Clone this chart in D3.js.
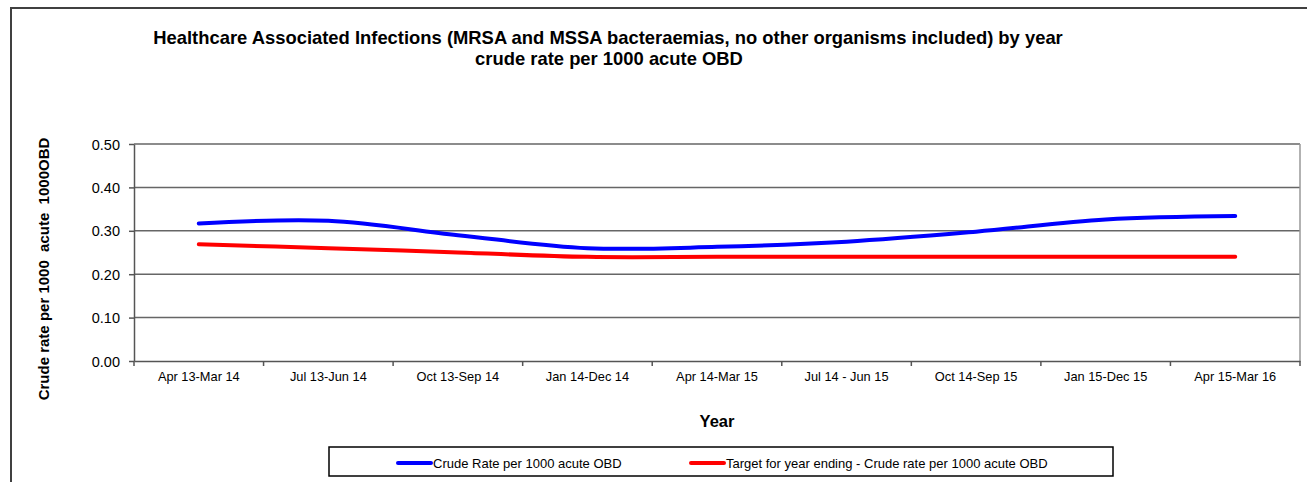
<!DOCTYPE html>
<html>
<head>
<meta charset="utf-8">
<script src="https://cdn.jsdelivr.net/npm/d3@7"></script>
<style>
  html, body { margin: 0; padding: 0; background: #fff; }
  svg { display: block; font-family: "Liberation Sans", Arial, sans-serif; }
</style>
</head>
<body>
<svg id="chart" width="1307" height="482"></svg>
<script>
// Period labels along the x axis
const periods = [
  "Apr 13-Mar 14", "Jul 13-Jun 14", "Oct 13-Sep 14", "Jan 14-Dec 14",
  "Apr 14-Mar 15", "Jul 14 - Jun 15", "Oct 14-Sep 15", "Jan 15-Dec 15", "Apr 15-Mar 16"
];
// Crude rate per 1000 acute OBD
const crudeRate = [0.317, 0.323, 0.290, 0.260, 0.263, 0.275, 0.298, 0.326, 0.334];
// Target for year ending
const targetRate = [0.269, 0.260, 0.250, 0.240, 0.240, 0.240, 0.240, 0.240, 0.240];
const yTicks = [0, 0.1, 0.2, 0.3, 0.4, 0.5];

const seriesNames = [
  "Crude Rate per 1000 acute OBD",
  "Target for year ending - Crude rate per 1000 acute OBD"
];
const seriesColors = ["#0000ff", "#ff0000"];

const svg = d3.select("#chart");
const plot = { left: 134, right: 1300, top: 144, bottom: 361 };

// Outer chart frame (open to the right and bottom)
svg.append("path")
  .attr("d", "M11,482 V8 H1307")
  .attr("fill", "none").attr("stroke", "#404040").attr("stroke-width", 2);

// Title
const title = svg.append("text")
  .attr("text-anchor", "middle")
  .attr("font-weight", "bold").attr("font-size", 18.4).attr("fill", "#000");
title.append("tspan").attr("x", 608).attr("y", 44)
  .text("Healthcare Associated Infections (MRSA and MSSA bacteraemias, no other organisms included) by year");
title.append("tspan").attr("x", 609).attr("y", 65)
  .text("crude rate per 1000 acute OBD");

const x = d3.scaleBand().domain(periods).range([plot.left, plot.right]);
const y = d3.scaleLinear().domain([0, 0.5]).range([plot.bottom, plot.top]);

// Horizontal gridlines
svg.append("g").selectAll("line").data(yTicks.filter(d => d > 0)).join("line")
  .attr("x1", plot.left).attr("x2", plot.right)
  .attr("y1", d => y(d)).attr("y2", d => y(d))
  .attr("stroke", "#666").attr("stroke-width", 1.5);

// Right edge of plot area
svg.append("line")
  .attr("x1", plot.right).attr("x2", plot.right)
  .attr("y1", plot.top).attr("y2", plot.bottom)
  .attr("stroke", "#999").attr("stroke-width", 1.5);

// Y axis
const yAxis = svg.append("g")
  .attr("transform", `translate(${plot.left},0)`)
  .call(d3.axisLeft(y).tickValues(yTicks).tickFormat(d3.format(".2f")).tickSize(5).tickSizeOuter(0));
yAxis.select(".domain").attr("stroke", "#555").attr("stroke-width", 1.5);
yAxis.selectAll(".tick line").attr("stroke", "#555").attr("stroke-width", 1.5);
yAxis.selectAll(".tick text")
  .attr("font-family", "Liberation Sans, Arial, sans-serif")
  .attr("font-size", 14.5).attr("fill", "#000").attr("x", -14).attr("dy", "0.35em");

// X axis
const xAxis = svg.append("g")
  .attr("transform", `translate(0,${plot.bottom})`)
  .call(d3.axisBottom(x).tickSize(0).tickSizeOuter(0));
xAxis.select(".domain").attr("stroke", "#555").attr("stroke-width", 1.5);
xAxis.selectAll(".tick text")
  .attr("font-family", "Liberation Sans, Arial, sans-serif")
  .attr("font-size", 12.8).attr("fill", "#000").attr("y", 11).attr("dy", "0.71em");
// Category boundary ticks
svg.append("g").selectAll("line")
  .data(periods.map(p => x(p)).concat([plot.right])).join("line")
  .attr("x1", d => d).attr("x2", d => d)
  .attr("y1", plot.bottom).attr("y2", plot.bottom + 5)
  .attr("stroke", "#555").attr("stroke-width", 1.5);

// Axis titles
svg.append("text")
  .attr("transform", "translate(49,269) rotate(-90)")
  .attr("text-anchor", "middle").attr("font-weight", "bold").attr("font-size", 15)
  .attr("xml:space", "preserve")
  .text("Crude rate per 1000  acute  1000OBD");
svg.append("text")
  .attr("x", 717).attr("y", 427)
  .attr("text-anchor", "middle").attr("font-weight", "bold").attr("font-size", 16.5)
  .text("Year");

// Series lines
const line = d3.line()
  .x((d, i) => x(periods[i]) + x.bandwidth() / 2)
  .y(d => y(d))
  .curve(d3.curveCatmullRom.alpha(0.5));

[targetRate, crudeRate].forEach((vals, k) => {
  const c = k === 0 ? seriesColors[1] : seriesColors[0];
  svg.append("path")
    .datum(vals)
    .attr("d", line)
    .attr("fill", "none").attr("stroke", c)
    .attr("stroke-width", 4).attr("stroke-linecap", "round");
});

// Legend
const legend = svg.append("g");
legend.append("rect")
  .attr("x", 329).attr("y", 447).attr("width", 784).attr("height", 29)
  .attr("fill", "#fff").attr("stroke", "#000").attr("stroke-width", 1.5);
const legendItems = [
  { name: seriesNames[0], color: seriesColors[0], x: 398 },
  { name: seriesNames[1], color: seriesColors[1], x: 691 }
];
legendItems.forEach(it => {
  legend.append("line")
    .attr("x1", it.x).attr("x2", it.x + 33).attr("y1", 463).attr("y2", 463)
    .attr("stroke", it.color).attr("stroke-width", 4).attr("stroke-linecap", "round");
  legend.append("text")
    .attr("x", it.x + 35).attr("y", 467.5)
    .attr("font-size", 13).attr("fill", "#000")
    .text(it.name);
});
</script>
</body>
</html>
